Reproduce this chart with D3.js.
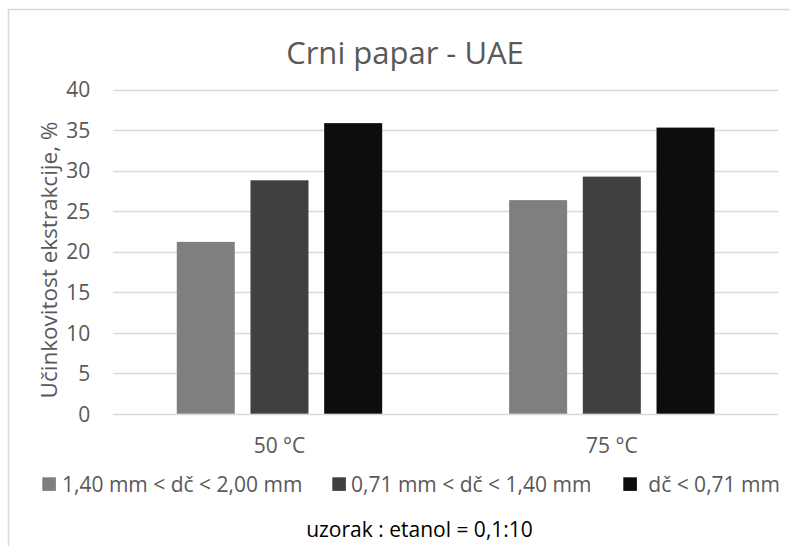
<!DOCTYPE html>
<html>
<head>
<meta charset="utf-8">
<script src="https://cdn.jsdelivr.net/npm/d3@7"></script>
<style>
  html, body { margin: 0; padding: 0; background: #fff; }
  svg { display: block; }
  text { font-family: "Open Sans", "Noto Sans", sans-serif; }
</style>
</head>
<body>
<svg id="chart" width="790" height="546"></svg>
<script>
const categories = ["50 °C", "75 °C"];
const seriesNames = ["1,40 mm < dč < 2,00 mm", "0,71 mm < dč < 1,40 mm", "dč < 0,71 mm"];
const series1 = [21.2, 26.35];
const series2 = [28.8, 29.25];
const series3 = [35.85, 35.3];
const yTicks = [0, 5, 10, 15, 20, 25, 30, 35, 40];
const colors = ["#7f7f7f", "#404040", "#0d0d0d"];
const titleText = "Crni papar - UAE";
const yTitle = "Učinkovitost ekstrakcije, %";
const noteText = "uzorak : etanol = 0,1:10";

const seriesValues = [series1, series2, series3];
const svg = d3.select("#chart");

// chart border
svg.append("rect")
  .attr("x", 8.5).attr("y", 9.5)
  .attr("width", 820).attr("height", 600)
  .attr("fill", "none").attr("stroke", "#d9d9d9").attr("stroke-width", 1.5);

const plot = { left: 113.3, right: 778, top: 89.5, bottom: 413.7 };

const y = d3.scaleLinear().domain([0, 40]).range([plot.bottom, plot.top]);
const x0 = d3.scaleBand().domain(categories).range([plot.left, plot.right])
  .paddingInner(0.382).paddingOuter(0.191);
const x1 = d3.scaleBand().domain(d3.range(seriesNames.length)).range([0, x0.bandwidth()])
  .paddingInner(0.213).paddingOuter(0);

// gridlines
svg.append("g").selectAll("line").data(yTicks).join("line")
  .attr("x1", plot.left).attr("x2", plot.right)
  .attr("y1", d => Math.round(y(d)) + 0.5).attr("y2", d => Math.round(y(d)) + 0.5)
  .attr("stroke", "#d9d9d9").attr("stroke-width", 1.5);

// y axis labels via d3 axis
const yAxis = svg.append("g")
  .attr("transform", `translate(${plot.left},0)`)
  .call(d3.axisLeft(y).tickValues(yTicks).tickSize(0).tickPadding(23));
yAxis.select(".domain").remove();
yAxis.selectAll("text")
  .attr("font-family", "Open Sans, sans-serif")
  .attr("font-size", 21).attr("fill", "#595959").attr("dy", "0.35em");

// bars
const groups = svg.append("g").selectAll("g").data(categories).join("g")
  .attr("transform", d => `translate(${x0(d)},0)`);
groups.selectAll("rect")
  .data((d, i) => seriesValues.map((s, si) => ({ si, v: s[i] })))
  .join("rect")
  .attr("x", d => x1(d.si))
  .attr("width", x1.bandwidth())
  .attr("y", d => y(d.v))
  .attr("height", d => y(0) - y(d.v))
  .attr("fill", d => colors[d.si]);

// x axis labels
const xAxis = svg.append("g")
  .attr("transform", `translate(0,${plot.bottom})`)
  .call(d3.axisBottom(x0).tickSize(0).tickPadding(0));
xAxis.select(".domain").remove();
xAxis.selectAll("text")
  .attr("font-family", "Open Sans, sans-serif")
  .attr("font-size", 21).attr("fill", "#595959")
  .attr("dy", null).attr("y", 39.5);

// title
svg.append("text")
  .attr("x", 405).attr("y", 63.5)
  .attr("text-anchor", "middle")
  .attr("font-size", 31).attr("fill", "#595959")
  .text(titleText);

// y title
svg.append("text")
  .attr("transform", "translate(57,260) rotate(-90)")
  .attr("text-anchor", "middle")
  .attr("font-size", 22.5).attr("fill", "#595959")
  .text(yTitle);

// legend
const legendPos = [
  { sx: 42.3, tx: 62 },
  { sx: 332.3, tx: 351 },
  { sx: 623.3, tx: 648.3 }
];
const legend = svg.append("g").selectAll("g").data(seriesNames).join("g");
legend.append("rect")
  .attr("x", (d, i) => legendPos[i].sx).attr("y", 477.3)
  .attr("width", 13.6).attr("height", 13.6)
  .attr("fill", (d, i) => colors[i]);
legend.append("text")
  .attr("x", (d, i) => legendPos[i].tx).attr("y", 491.5)
  .attr("font-size", 21).attr("fill", "#595959")
  .text(d => d);

// note
svg.append("text")
  .attr("x", 419.5).attr("y", 536.5)
  .attr("text-anchor", "middle")
  .attr("font-size", 21).attr("fill", "#000")
  .text(noteText);
</script>
</body>
</html>
